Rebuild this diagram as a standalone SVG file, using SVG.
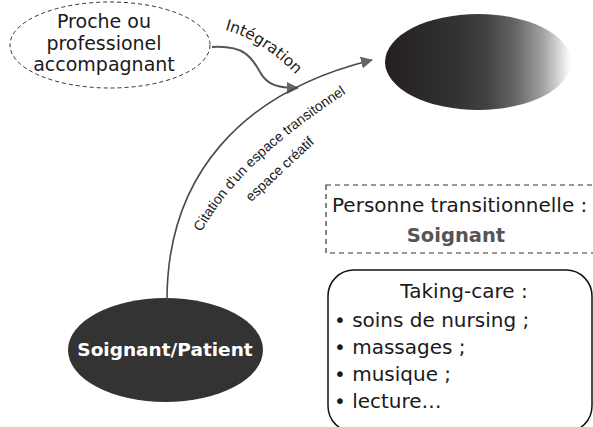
<svg xmlns="http://www.w3.org/2000/svg" width="593" height="427" viewBox="0 0 593 427">
<defs>
<style>
text{font-family:"DejaVu Sans","Liberation Sans",sans-serif;fill:#1a1a1a}
.big{font-size:19px}
.mid{font-size:20px}
.lbl{font-family:"Liberation Sans",Arial,sans-serif;font-size:14px}
.bold{font-weight:bold}
.conn{fill:none}
</style>
<linearGradient id="grad" x1="0" y1="0" x2="1" y2="0">
<stop offset="0" stop-color="#231f20"/>
<stop offset="0.4" stop-color="#353333"/>
<stop offset="0.55" stop-color="#434141"/>
<stop offset="0.7" stop-color="#676565"/>
<stop offset="0.85" stop-color="#a3a2a2"/>
<stop offset="1" stop-color="#ffffff"/>
</linearGradient>
<marker id="arr" markerWidth="12" markerHeight="12" viewBox="0 0 12 12" refX="11" refY="6" orient="auto" markerUnits="userSpaceOnUse">
<path d="M0,0 L12,6 L0,12 Z" fill="#666"/>
</marker>
<path id="pInt" d="M222,29 Q262,39 298,77"/>
<path id="pCit" d="M200,234 C224,192 262,148 348,92"/>
<path id="pEsp" d="M247,206 Q278,177 319,139"/>
</defs>

<g id="proche">
<ellipse cx="110" cy="45" rx="100" ry="43" fill="#fff" stroke="#333" stroke-width="1" stroke-dasharray="4 3"/>
<text class="big" x="104" y="28" text-anchor="middle">Proche ou</text>
<text class="big" x="104" y="50" text-anchor="middle">professionel</text>
<text class="big" x="104" y="71" text-anchor="middle">accompagnant</text>
</g>

<g id="espace">
<ellipse cx="478" cy="62" rx="93" ry="48" fill="url(#grad)"/>
</g>

<g id="personne">
<rect x="326" y="185" width="290" height="68" fill="none" stroke="#333" stroke-width="1.2" stroke-dasharray="5 4"/>
<text class="mid" x="332" y="212">Personne transitionnelle :</text>
<text class="big bold" x="456" y="242" text-anchor="middle" style="font-size:19.5px;fill:#555">Soignant</text>
</g>

<g id="taking">
<rect x="328" y="270" width="264" height="162" rx="26" fill="none" stroke="#111" stroke-width="1.5"/>
<text class="mid" x="464" y="298" text-anchor="middle">Taking-care :</text>
<text class="mid" x="334" y="327">• soins de nursing ;</text>
<text class="mid" x="334" y="354">• massages ;</text>
<text class="mid" x="334" y="381">• musique ;</text>
<text class="mid" x="334" y="408">• lecture…</text>
</g>

<g id="patient">
<ellipse cx="165.5" cy="350" rx="97.5" ry="52" fill="#333"/>
<text class="bold" x="165" y="356" text-anchor="middle" style="font-size:18.5px;fill:#fff">Soignant/Patient</text>
</g>

<g id="connectors">
<path class="conn" d="M212,47 C245,45 252,58 260,72 C267,85 278,88 298,88" stroke="#555" stroke-width="2" marker-end="url(#arr)"/>
<text style="font-size:15.5px"><textPath href="#pInt" startOffset="50%" text-anchor="middle">Intégration</textPath></text>
<path class="conn" d="M167,300 C167,175 242,92 372,60" stroke="#4a4a4a" stroke-width="1.6" marker-end="url(#arr)"/>
<text class="lbl"><textPath href="#pCit" startOffset="50%" text-anchor="middle">Citation d'un espace transitonnel</textPath></text>
<text class="lbl"><textPath href="#pEsp" startOffset="50%" text-anchor="middle">espace créatif</textPath></text>
</g>
</svg>
